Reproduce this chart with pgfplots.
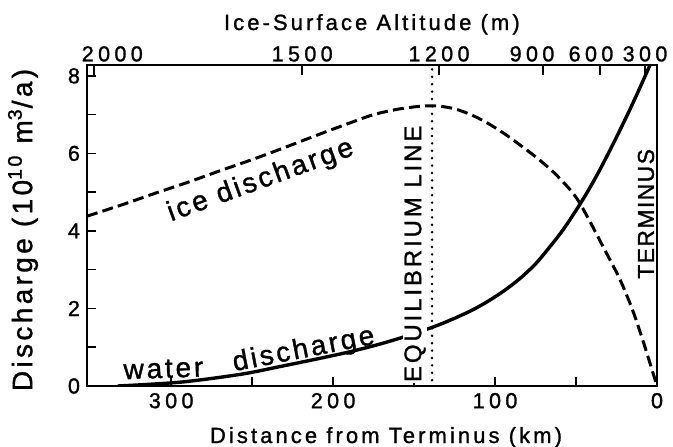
\documentclass[border=0pt]{standalone}
\usepackage{fontspec}
\setmainfont{Liberation Sans}[LetterSpace=14, FakeBold=1.2]
\newfontfamily\tickfont{Liberation Sans}[LetterSpace=20, FakeBold=1.2]
\newfontfamily\curvefont{Liberation Sans}[LetterSpace=10, FakeBold=1.2]
\newfontfamily\ylabfont{Liberation Sans}[LetterSpace=12, FakeBold=1.2]
\newfontfamily\eqfont{Liberation Sans}[LetterSpace=12, FakeBold=1.2]
\newfontfamily\termfont{Liberation Sans}[LetterSpace=6, FakeBold=1.2]
\usepackage{pgfplots}
\pgfplotsset{compat=1.18}

\pgfplotsset{
  glacier/.style={
    scale only axis,
    width=285bp, height=160.5bp,
    x dir=reverse,
    xmin=0, xmax=352, ymin=0, ymax=8.28,
    axis line style={line width=1bp},
    tick align=inside,
    every tick/.style={black, line width=0.8bp},
    /pgf/number format/assume math mode=true,
  }
}

\begin{document}
\begin{tikzpicture}
\begin{axis}[
  glacier,
  clip mode=individual,
  xtick={0,100,200,300}, minor xtick={50,150,250},
  ytick={0,2,4,6,8}, minor ytick={1,3,5,7},
  xtick pos=lower, ytick pos=left,
  major tick length=4.5bp, minor tick length=4.5bp,
  tick label style={font=\tickfont\fontsize{10.8bp}{12bp}\selectfont},
  xlabel={Distance from Terminus (km)},
  ylabel={\ylabfont Discharge (10\textsuperscript{10} m\textsuperscript{3}/a)},
  xlabel style={font=\fontsize{11bp}{13bp}\selectfont,
    at={(axis description cs:0.5246,-0.1776)}, anchor=base},
  ylabel style={font=\fontsize{14bp}{16bp}\selectfont,
    at={(axis description cs:-0.1123,0.486)}, anchor=center},
]

% ice discharge (dashed)
\addplot[black, line width=1.5bp, dash pattern=on 5.5bp off 2.6bp, smooth] coordinates {
  (352,4.38) (330,4.68) (310,4.97) (290,5.25) (270,5.55) (250,5.84)
  (230,6.15) (210,6.47) (190,6.78) (175,7.00) (160,7.14) (145,7.22)
  (135,7.22) (125,7.15) (115,7.00) (105,6.79) (95,6.53) (85,6.23)
  (74,5.88) (64,5.52) (54,5.08) (48,4.74) (40,4.13) (33,3.57)
  (23,2.76) (15,1.95) (8,1.08) (0,0)
};

% water discharge (solid)
\addplot[black, line width=1.7bp, smooth] coordinates {
  (333,0) (315,0.04) (294,0.10) (274,0.20) (253,0.33) (233,0.50)
  (212,0.68) (191,0.87) (173,1.06) (156,1.27) (139,1.51) (127,1.71)
  (115,1.94) (105,2.17) (95,2.44) (85,2.76) (75,3.15) (66,3.60)
  (58,4.03) (48,4.66) (40,5.22) (33,5.76) (25,6.42) (18,7.02)
  (12,7.56) (6,8.12) (3,8.40)
};

% equilibrium line (dotted)
\addplot[black, line width=1.4bp, line cap=round, dash pattern=on 0pt off 3.7bp]
  coordinates {(138.9,0.15) (138.9,8.28)};

\node[font=\curvefont\fontsize{14bp}{16bp}\selectfont, anchor=base, rotate=20]
  at (axis cs:243.2,5.11) {ice discharge};
\node[font=\curvefont\fontsize{14bp}{16bp}\selectfont, anchor=base, rotate=2]
  at (axis cs:304.6,0.21) {water};
\node[font=\curvefont\fontsize{14bp}{16bp}\selectfont, anchor=base, rotate=11]
  at (axis cs:217.3,0.735) {discharge};
\node[font=\eqfont\fontsize{12bp}{14bp}\selectfont, rotate=90, fill=white, inner sep=0.6bp]
  at (axis cs:149.4,3.41) {EQUILIBRIUM LINE};
\node[font=\termfont\fontsize{11.5bp}{13bp}\selectfont, rotate=90, inner sep=0pt]
  at (axis cs:6.8,4.44) {TERMINUS};
\end{axis}

% top axis: ice-surface altitude
\begin{axis}[
  glacier,
  axis x line*=top, axis y line=none,
  xtick={347.5,219.1,134.6,70.4,35.2,7.4},
  xticklabels={\makebox[0pt]{\hspace{18bp}2000}, 1500, 1200,
    \makebox[0pt]{900\hspace{11bp}}, \makebox[0pt]{600\hspace{9bp}}, 300},
  major tick length=5bp,
  xticklabel style={font=\tickfont\fontsize{10.8bp}{12bp}\selectfont, yshift=-1.8bp},
  xlabel={Ice-Surface Altitude (m)},
  xlabel style={font=\fontsize{11bp}{13bp}\selectfont,
    at={(axis description cs:0.228,1.109)}, anchor=base west},
]
\addplot[draw=none] coordinates {(100,1)};
\end{axis}

\pgfresetboundingbox
\path[use as bounding box] (-43.5bp,-30.5bp) rectangle (293bp,193bp);
\end{tikzpicture}
\end{document}
